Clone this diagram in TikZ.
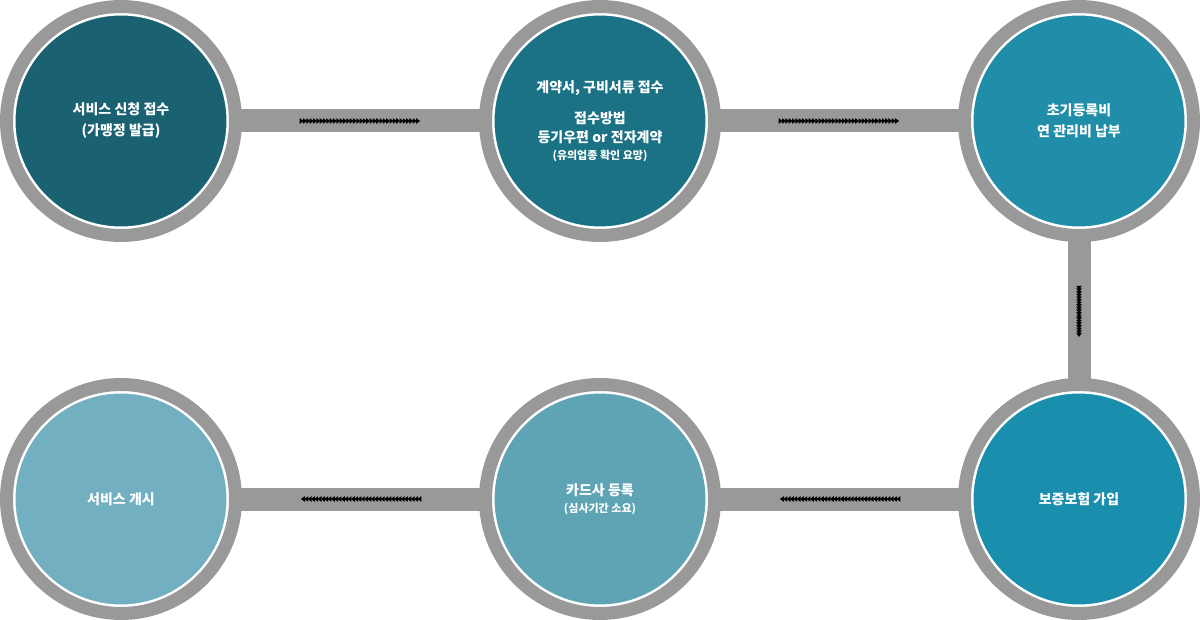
\documentclass[tikz,border=0pt]{standalone}
\usepackage{fontspec}
\setmainfont{Noto Sans CJK KR}
\usetikzlibrary{positioning,shapes.geometric,backgrounds}

\definecolor{stepa}{HTML}{1A6272}
\definecolor{stepb}{HTML}{1B7285}
\definecolor{stepc}{HTML}{208EA8}
\definecolor{stepd}{HTML}{1A8FAD}
\definecolor{stepe}{HTML}{5EA4B5}
\definecolor{stepf}{HTML}{72AFC0}
\definecolor{ringgray}{HTML}{999999}

\begin{document}
\begin{tikzpicture}[%
			x=1pt,
			y=-1pt,
			font=\bfseries\fontsize{14}{21}\selectfont,
			stage/.style={%
				circle,
				minimum size=216pt,
				fill=#1,
				draw=white,
				line width=5pt,
				text=white,
				align=center
			},
			ring/.style={draw=ringgray, line width=13pt},
			bar/.style={draw=ringgray, line width=23pt},
			tip/.style={%
				isosceles triangle,
				isosceles triangle apex angle=70,
				fill=black,
				inner sep=0pt,
				minimum size=4pt,
				sloped,
				allow upside down
			}
			]
			\useasboundingbox (0,0) rectangle (1200,620);
			\node[stage=stepa] (s1) at (121,121) {서비스 신청 접수\\(가맹정 발급)};
			\node[stage=stepb] (s2) at (600,121) {계약서, 구비서류 접수\\[10pt]접수방법\\[-2pt]등기우편 or 전자계약\\[-4pt]{\fontsize{11}{14}\selectfont (유의업종 확인 요망)}};
			\node[stage=stepc] (s3) at (1079,121) {초기등록비\\연 관리비 납부};
			\node[stage=stepd] (s4) at (1079,499) {보증보험 가입};
			\node[stage=stepe] (s5) at (600,499) {카드사 등록\\[-4pt]{\fontsize{11}{14}\selectfont (심사기간 소요)}};
			\node[stage=stepf] (s6) at (121,499) {서비스 개시};
			\foreach \n in {s1,s2,s3,s4,s5,s6}
				\draw[ring] (\n.center) circle (114.5);

			\begin{scope}[on background layer]
				\draw[bar] (s1) -- (s2);
				\draw[bar] (s2) -- (s3);
				\draw[bar] (s3) -- (s4);
				\draw[bar] (s4) -- (s5);
				\draw[bar] (s5) -- (s6);
			\end{scope}

			% dotted arrow marks on the bars
			\foreach \a/\b in {s1/s2,s2/s3,s4/s5,s5/s6}
				\foreach \i in {0,...,35}
					\path (\a) -- (\b) node[tip, pos=0.27+\i*0.0129] {};
			\foreach \i in {0,...,18}
				\path (s3) -- (s4) node[tip, pos=0.355+\i*0.0167] {};
\end{tikzpicture}
\end{document}
